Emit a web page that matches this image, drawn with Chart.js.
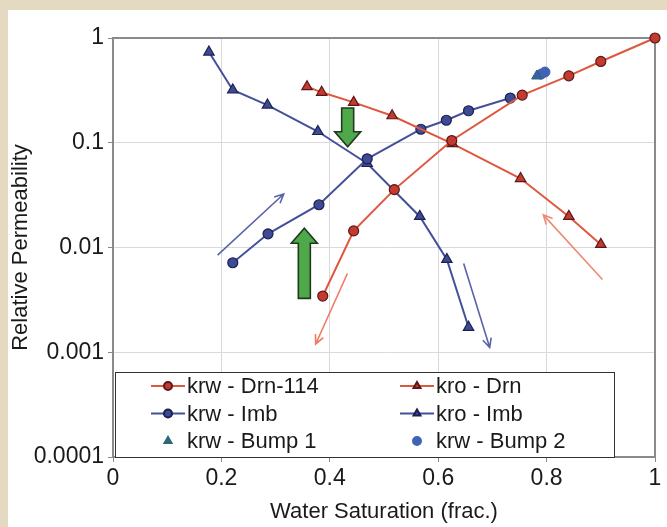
<!DOCTYPE html>
<html>
<head>
<meta charset="utf-8">
<title>Relative permeability</title>
<script src="https://cdn.jsdelivr.net/npm/chart.js@4/dist/chart.umd.min.js"></script>
<style>
  html, body { margin: 0; padding: 0; background: #fff; }
  #wrap { width: 667px; height: 527px; }
</style>
</head>
<body>
<div id="wrap"><canvas id="relpermChart" width="667" height="527"></canvas></div>
<script>
// Drainage (Drn) and imbibition (Imb) curves: water saturation vs kr
const swDrnKrw = [0.387, 0.444, 0.519, 0.625, 0.755, 0.841, 0.900, 1.000];
const krwDrn   = [0.00344, 0.0144, 0.0357, 0.105, 0.285, 0.435, 0.597, 1.0];
const swDrnKro = [0.358, 0.385, 0.444, 0.515, 0.626, 0.752, 0.841, 0.900];
const kroDrn   = [0.343, 0.303, 0.243, 0.181, 0.098, 0.0455, 0.0198, 0.0107];
const swImbKrw = [0.221, 0.286, 0.380, 0.469, 0.568, 0.615, 0.656, 0.733];
const krwImb   = [0.00715, 0.0135, 0.0256, 0.0703, 0.1346, 0.164, 0.202, 0.267];
const swImbKro = [0.177, 0.221, 0.285, 0.378, 0.469, 0.566, 0.616, 0.656];
const kroImb   = [0.734, 0.319, 0.229, 0.128, 0.0634, 0.0198, 0.00769, 0.00173];
const swBump1  = [0.782];
const krwBump1 = [0.434];
const swBump2  = [0.790, 0.797];
const krwBump2 = [0.452, 0.473];

const xTicks = [0, 0.2, 0.4, 0.6, 0.8, 1];
const xTickLabels = ['0', '0.2', '0.4', '0.6', '0.8', '1'];
const yTicks = [0.0001, 0.001, 0.01, 0.1, 1];
const yTickLabels = ['0.0001', '0.001', '0.01', '0.1', '1'];

// thin direction arrows (start -> end) in Sw / kr units
const trendFrom  = [[0.193, 0.00847], [0.4325, 0.00565], [0.903, 0.00494], [0.647, 0.00705]];
const trendTo    = [[0.315, 0.0324], [0.374, 0.0012], [0.794, 0.0205], [0.695, 0.00111]];
const trendColor = ['#5a64a8', '#ef7a66', '#ef8a74', '#5a64a8'];

// big green arrows: Sw, tail kr, tip kr
const bigArrowSw   = [0.433, 0.353];
const bigArrowTail = [0.215, 0.00327];
const bigArrowTip  = [0.0917, 0.01525];

const RED_LINE = '#e0573f';
const RED_FILL = '#c23b30';
const RED_EDGE = '#5e1616';
const BLUE_LINE = '#45509a';
const BLUE_FILL = '#3e4a92';
const BLUE_EDGE = '#1b2050';
const FONT = { family: "'Liberation Sans', Arial, sans-serif", size: 22 };
const TICK_FONT = { family: "'Liberation Sans', Arial, sans-serif", size: 23 };

function toXY(xs, ys) {
    return xs.map((x, i) => ({ x: x, y: ys[i] }));
}

// beige frame round the white sheet
const framePlugin = {
    id: 'frame',
    beforeDraw(chart) {
        const ctx = chart.ctx;
        ctx.save();
        ctx.fillStyle = '#e4d9c1';
        ctx.fillRect(0, 0, chart.width, chart.height);
        ctx.fillStyle = '#ffffff';
        ctx.fillRect(8, 10, chart.width - 8, chart.height - 10);
        ctx.restore();
    },
    beforeDatasetsDraw(chart) {
        const a = chart.chartArea;
        const ctx = chart.ctx;
        ctx.save();
        ctx.strokeStyle = '#8a8a8a';
        ctx.lineWidth = 2;
        ctx.beginPath();
        ctx.moveTo(a.left, a.top);
        ctx.lineTo(a.right, a.top);
        ctx.lineTo(a.right, a.bottom);
        ctx.stroke();
        ctx.restore();
    }
};

// arrows drawn over the curves
const arrowPlugin = {
    id: 'arrows',
    afterDatasetsDraw(chart) {
        const ctx = chart.ctx;
        const xs = chart.scales.x, ys = chart.scales.y;
        ctx.save();
        trendFrom.forEach((p, i) => {
            const x0 = xs.getPixelForValue(p[0]), y0 = ys.getPixelForValue(p[1]);
            const x1 = xs.getPixelForValue(trendTo[i][0]), y1 = ys.getPixelForValue(trendTo[i][1]);
            const ang = Math.atan2(y1 - y0, x1 - x0);
            ctx.strokeStyle = trendColor[i];
            ctx.lineWidth = 1.6;
            ctx.beginPath();
            ctx.moveTo(x0, y0);
            ctx.lineTo(x1, y1);
            ctx.moveTo(x1 - 10 * Math.cos(ang - 0.45), y1 - 10 * Math.sin(ang - 0.45));
            ctx.lineTo(x1, y1);
            ctx.lineTo(x1 - 10 * Math.cos(ang + 0.45), y1 - 10 * Math.sin(ang + 0.45));
            ctx.stroke();
        });
        bigArrowSw.forEach((sw, i) => {
            const cx = xs.getPixelForValue(sw);
            const yt = ys.getPixelForValue(bigArrowTail[i]);
            const yp = ys.getPixelForValue(bigArrowTip[i]);
            const dir = yp > yt ? 1 : -1;
            const shaft = 6, head = 13, headLen = 15;
            const yb = yp - dir * headLen;
            ctx.beginPath();
            ctx.moveTo(cx - shaft, yt);
            ctx.lineTo(cx - shaft, yb);
            ctx.lineTo(cx - head, yb);
            ctx.lineTo(cx, yp);
            ctx.lineTo(cx + head, yb);
            ctx.lineTo(cx + shaft, yb);
            ctx.lineTo(cx + shaft, yt);
            ctx.closePath();
            ctx.fillStyle = '#4fa84a';
            ctx.fill();
            ctx.strokeStyle = '#1f3b1f';
            ctx.lineWidth = 1.6;
            ctx.stroke();
        });
        ctx.restore();
    }
};

// boxed two-column legend inside the bottom of the plot
const boxLegendPlugin = {
    id: 'boxLegend',
    afterDraw(chart) {
        const ctx = chart.ctx;
        const a = chart.chartArea;
        const left = a.left + 2, right = a.left + 502, top = a.bottom - 85, bottom = a.bottom;
        ctx.save();
        ctx.fillStyle = '#ffffff';
        ctx.fillRect(left, top, right - left, bottom - top);
        ctx.strokeStyle = '#333333';
        ctx.lineWidth = 1;
        ctx.strokeRect(left + 0.5, top + 0.5, right - left - 1, bottom - top);
        ctx.font = FONT.size + 'px ' + FONT.family;
        ctx.textBaseline = 'middle';
        chart.data.datasets.forEach((ds, i) => {
            const col = i % 2, row = Math.floor(i / 2);
            const sx = left + 36 + col * 249;
            const sy = top + 14 + row * 27.5;
            if (ds.showLine) {
                ctx.strokeStyle = ds.borderColor;
                ctx.lineWidth = 2;
                ctx.beginPath();
                ctx.moveTo(sx, sy);
                ctx.lineTo(sx + 34, sy);
                ctx.stroke();
            }
            ctx.fillStyle = ds.pointBackgroundColor;
            ctx.strokeStyle = ds.pointBorderColor;
            Chart.helpers.drawPoint(ctx, { pointStyle: ds.pointStyle, radius: 4, rotation: 0, borderWidth: 1 }, sx + 17, sy);
            ctx.fillStyle = '#1a1a1a';
            ctx.fillText(ds.label, sx + 36, sy + 1);
        });
        ctx.restore();
    }
};

function curve(label, xs, ys, line, fill, edge, style) {
    return {
        label: label,
        data: toXY(xs, ys),
        showLine: true,
        clip: false,
        borderColor: line,
        borderWidth: 2,
        pointStyle: style,
        pointRadius: style === 'triangle' ? 6 : 5,
        pointBackgroundColor: fill,
        pointBorderColor: edge,
        pointBorderWidth: 1.2
    };
}

const ctx = document.getElementById('relpermChart').getContext('2d');
new Chart(ctx, {
    type: 'scatter',
    data: {
        datasets: [
            curve('krw - Drn-114', swDrnKrw, krwDrn, RED_LINE, RED_FILL, RED_EDGE, 'circle'),
            curve('kro - Drn', swDrnKro, kroDrn, RED_LINE, RED_FILL, RED_EDGE, 'triangle'),
            curve('krw - Imb', swImbKrw, krwImb, BLUE_LINE, BLUE_FILL, BLUE_EDGE, 'circle'),
            curve('kro - Imb', swImbKro, kroImb, BLUE_LINE, BLUE_FILL, BLUE_EDGE, 'triangle'),
            {
                label: 'krw - Bump 1',
                data: toXY(swBump1, krwBump1),
                showLine: false,
                pointStyle: 'triangle',
                pointRadius: 6,
                pointBackgroundColor: '#3a5fae',
                pointBorderColor: '#2b6a6a',
                pointBorderWidth: 1
            },
            {
                label: 'krw - Bump 2',
                data: toXY(swBump2, krwBump2),
                showLine: false,
                pointStyle: 'circle',
                pointRadius: 5,
                pointBackgroundColor: '#4063b4',
                pointBorderColor: '#4063b4',
                pointBorderWidth: 1
            }
        ]
    },
    options: {
        responsive: false,
        animation: false,
        layout: { padding: { left: 8, top: 38, right: 12, bottom: 0 } },
        plugins: {
            legend: { display: false },
            tooltip: { enabled: false }
        },
        scales: {
            x: {
                type: 'linear',
                min: 0,
                max: 1,
                afterBuildTicks: s => { s.ticks = xTicks.map(v => ({ value: v })); },
                afterFit: s => { s.height = 70; },
                ticks: {
                    callback: (v, i) => xTickLabels[i],
                    font: TICK_FONT,
                    color: '#1a1a1a',
                    padding: 3,
                    maxRotation: 0
                },
                grid: { color: '#dadada', lineWidth: 1, tickLength: 5, tickColor: '#8a8a8a' },
                border: { color: '#8a8a8a', width: 2 },
                title: {
                    display: true,
                    text: 'Water Saturation (frac.)',
                    font: FONT,
                    color: '#1a1a1a',
                    padding: { top: 0, bottom: 2 }
                }
            },
            y: {
                type: 'logarithmic',
                min: 0.0001,
                max: 1,
                afterBuildTicks: s => { s.ticks = yTicks.map(v => ({ value: v })); },
                afterFit: s => { s.width = 105; },
                ticks: {
                    callback: (v, i) => yTickLabels[i],
                    font: TICK_FONT,
                    color: '#1a1a1a',
                    padding: 4
                },
                grid: { color: '#dadada', lineWidth: 1, tickLength: 5, tickColor: '#8a8a8a' },
                border: { color: '#8a8a8a', width: 2 },
                title: {
                    display: true,
                    text: 'Relative Permeability',
                    font: FONT,
                    color: '#1a1a1a',
                    padding: { top: 0, bottom: 0 }
                }
            }
        }
    },
    plugins: [framePlugin, arrowPlugin, boxLegendPlugin]
});
</script>
</body>
</html>
